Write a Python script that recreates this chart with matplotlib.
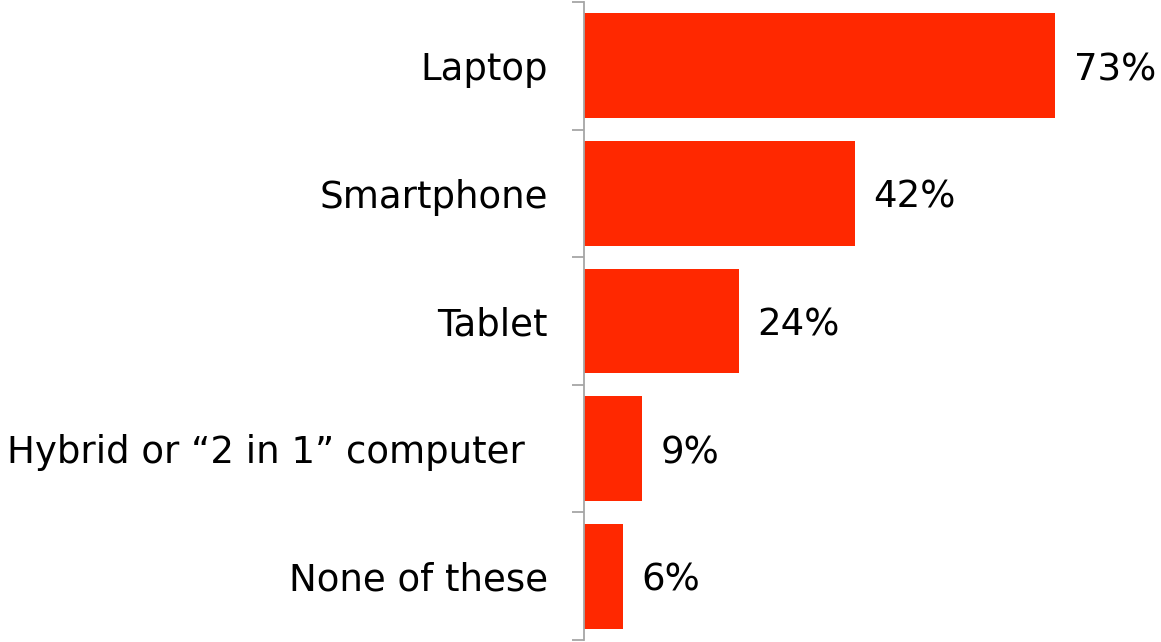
import matplotlib
matplotlib.use("Agg")
import matplotlib.pyplot as plt
import numpy as np

categories = ["Laptop", "Smartphone", "Tablet", "Hybrid or \u201c2 in 1\u201d computer  ", "None of these"]
values = [73, 42, 24, 9, 6]
value_labels = ["73%", "42%", "24%", "9%", "6%"]

BAR_COLOR = "#FF2800"
AXIS_COLOR = "#A6A6A6"
FS = 26.7

fig = plt.figure(figsize=(11.61, 6.42), dpi=100)
ax = fig.add_axes([584 / 1161, 2 / 642, 1 - 584 / 1161, 638 / 642])

y = np.arange(len(categories))
bars = ax.barh(y, values, height=0.82, color=BAR_COLOR)

ax.set_xlim(0, (1161 - 584) / 6.45)
ax.set_ylim(len(categories) - 0.5, -0.5)

for b, lab in zip(bars, value_labels):
    ax.annotate(lab, xy=(b.get_width(), b.get_y() + b.get_height() / 2),
                xytext=(13.5, 0), textcoords="offset points",
                ha="left", va="center_baseline", fontsize=FS, color="black")

for s in ["top", "right", "bottom"]:
    ax.spines[s].set_visible(False)
ax.spines["left"].set_color(AXIS_COLOR)
ax.spines["left"].set_linewidth(1.3)

ax.set_xticks([])
ax.set_yticks(y)
ax.set_yticklabels(categories, fontsize=FS, va="center_baseline")
ax.tick_params(axis="y", which="major", length=0, pad=26)
ax.set_yticks(np.arange(-0.5, len(categories), 1.0), minor=True)
ax.tick_params(axis="y", which="minor", length=8.6, width=1.3, color=AXIS_COLOR)

fig.savefig("out.png", dpi=100)
